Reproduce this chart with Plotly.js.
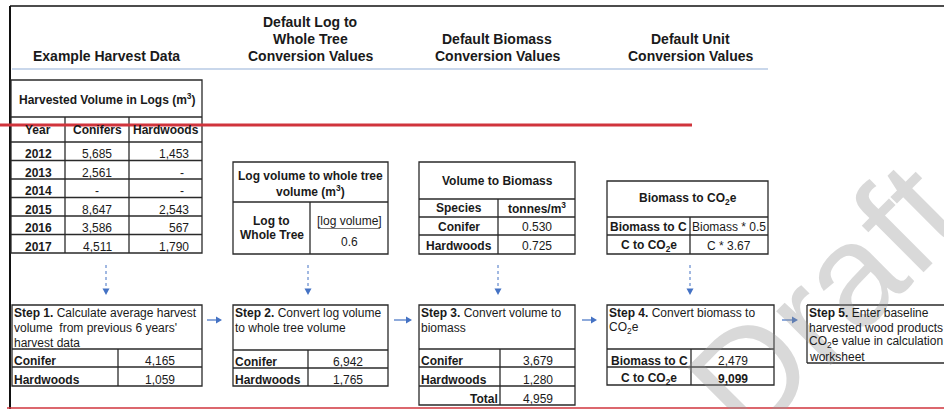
<!DOCTYPE html>
<html><head><meta charset="utf-8">
<script src="https://cdn.plot.ly/plotly-3.0.1.min.js"></script>
<style>html,body{margin:0;padding:0;background:#fff;}#chart{width:944px;height:409px;}</style>
</head><body><div id="chart"></div>
<script>
// ---------------- data ----------------
const headingExample = ['Example Harvest Data'];
const headingLogTree = ['Default Log to', 'Whole Tree', 'Conversion Values'];
const headingBiomass = ['Default Biomass', 'Conversion Values'];
const headingUnit = ['Default Unit', 'Conversion Values'];

const harvestTitle = 'Harvested Volume in Logs (m<sup>3</sup>)';
const harvestColumns = ['Year', 'Conifers', 'Hardwoods'];
const years = ['2012', '2013', '2014', '2015', '2016', '2017'];
const coniferLogs = [5685, 2561, null, 8647, 3586, 4511];
const hardwoodLogs = [1453, null, null, 2543, 567, 1790];

const logTreeTitle = ['Log volume to whole tree', 'volume (m<sup>3</sup>)'];
const logTreeLabel = ['Log to', 'Whole Tree'];
const logTreeFormula = ['[log volume]', '0.6'];

const biomassTitle = 'Volume to Biomass';
const biomassColumns = ['Species', 'tonnes/m<sup>3</sup>'];
const biomassSpecies = ['Conifer', 'Hardwoods'];
const biomassFactors = ['0.530', '0.725'];

const unitTitle = 'Biomass to CO<sub>2</sub>e';
const unitLabels = ['Biomass to C', 'C to CO<sub>2</sub>e'];
const unitFormulas = ['Biomass * 0.5', 'C * 3.67'];

const stepSpecies = ['Conifer', 'Hardwoods'];
const step1Values = [4165, 1059];
const step2Values = [6942, 1765];
const step3Values = [3679, 1280];
const step3Total = 4959;
const step4Labels = ['Biomass to C', 'C to CO<sub>2</sub>e'];
const step4Values = [2479, 9099];

const step1Text = ['<b>Step 1.</b> Calculate average harvest', "volume  from previous 6 years'", 'harvest data'];
const step2Text = ['<b>Step 2.</b> Convert log volume', 'to whole tree volume'];
const step3Text = ['<b>Step 3.</b> Convert volume to', 'biomass'];
const step4Text = ['<b>Step 4.</b> Convert biomass to', 'CO<sub>2</sub>e'];
const step5Text = ['<b>Step 5.</b> Enter baseline', 'harvested wood products', 'CO<sub>2</sub>e value in calculation', 'worksheet'];
const watermark = 'Draft';

// ---------------- helpers ----------------
const FONT = 'Arial, "Liberation Sans", sans-serif';
const fmt = v => v == null ? '-' : v.toLocaleString('en-US');
const shapes = [];
const annotations = [];
const INK = '#1a1a1a';
const BLUE = '#4472c4';
function L(x0, y0, x1, y1, o = {}) {
  shapes.push({type: 'line', xref: 'x', yref: 'y', x0, y0, x1, y1, layer: 'above',
    line: {color: o.c || '#2a2a2a', width: o.w || 1.3, dash: o.d || 'solid'}});
}
function R(x0, y0, x1, y1, o = {}) {
  shapes.push({type: 'rect', xref: 'x', yref: 'y', x0, y0, x1, y1, layer: 'above',
    fillcolor: 'rgba(0,0,0,0)', line: {color: o.c || '#2a2a2a', width: o.w || 1.3}});
}
function P(path, color) {
  shapes.push({type: 'path', xref: 'x', yref: 'y', path, layer: 'above', fillcolor: color, line: {width: 0}});
}
function T(x, y, text, o = {}) {
  annotations.push({xref: 'x', yref: 'y', x, y, text, showarrow: false,
    xanchor: o.a || 'center', yanchor: 'middle', align: o.a || 'center', borderpad: 0,
    font: {family: FONT, size: o.s || 12, color: o.c || INK}});
}
const B = s => '<b>' + s + '</b>';

// watermark (first annotation, so it lies under all other text)
annotations.push({xref: 'x', yref: 'y', x: 825, y: 300, text: watermark, showarrow: false,
  textangle: -45, xanchor: 'center', yanchor: 'middle', borderpad: 0,
  font: {family: FONT, size: 145, color: 'rgba(150,150,150,0.36)'}});

// frame
L(10, 6, 944, 6, {c: '#111', w: 1.5});
L(10, 6, 10, 409, {c: '#111', w: 2});
L(12, 69, 768, 69, {c: '#c9d7eb', w: 2});

// headings
const headCols = [[106, headingExample], [310, headingLogTree], [497, headingBiomass], [690, headingUnit]];
headCols.forEach(([cx, lines]) => {
  lines.forEach((t, i) => T(cx, 56 - (lines.length - 1 - i) * 17, B(t), {s: 14}));
});

// ---- table 1: harvested volume ----
const t1x = [11, 65, 129, 202];
const t1Top = 80, t1Head = 117, t1Col = 142, rowH = 18.5;
const t1Bottom = t1Col + years.length * rowH;
R(t1x[0], t1Top, t1x[3], t1Bottom);
L(t1x[0], t1Head, t1x[3], t1Head);
L(t1x[0], t1Col, t1x[3], t1Col);
years.forEach((_, i) => { if (i < years.length - 1) { const yb = t1Col + (i + 1) * rowH; L(t1x[0], yb, t1x[3], yb); } });
L(t1x[1], t1Head, t1x[1], t1Bottom);
L(t1x[2], t1Head, t1x[2], t1Bottom);
T((t1x[0] + t1x[3]) / 2, 99, B(harvestTitle));
harvestColumns.forEach((c, j) => T((t1x[j] + t1x[j + 1]) / 2, 130, B(c)));
years.forEach((yr, i) => {
  const y = t1Col + (i + 1) * rowH - 6.5;
  T(38, y, B(yr));
  T(97, y, fmt(coniferLogs[i]));
  if (hardwoodLogs[i] == null) T(182, y, '-');
  else T(189.5, y, fmt(hardwoodLogs[i]), {a: 'right'});
});

// ---- table 2: log to whole tree ----
R(233, 162, 388, 254);
L(233, 202, 388, 202);
L(310, 202, 310, 254);
T(310.5, 176, B(logTreeTitle[0]));
T(310.5, 191, B(logTreeTitle[1]));
T(271.5, 221, B(logTreeLabel[0]));
T(271.5, 235, B(logTreeLabel[1]));
T(349, 220.5, logTreeFormula[0]);
L(318, 228.5, 380, 228.5, {c: '#555', w: 0.8});
T(349, 242, logTreeFormula[1]);

// ---- table 3: volume to biomass ----
R(419, 162, 575, 254);
[199, 217, 235].forEach(y => L(419, y, 575, y));
L(498, 199, 498, 254);
T(497, 181, B(biomassTitle));
T(458.5, 208, B(biomassColumns[0]));
T(536.5, 208, B(biomassColumns[1]));
biomassSpecies.forEach((s, i) => {
  const y = [227, 246][i];
  T(458.5, y, B(s));
  T(536.5, y, biomassFactors[i]);
});

// ---- table 4: biomass to CO2e ----
R(607, 181, 768, 254);
L(607, 217, 768, 217);
L(607, 235, 768, 235);
L(690, 217, 690, 254);
T(687.5, 199, B(unitTitle));
unitLabels.forEach((s, i) => {
  const y = [227, 246][i];
  T(648.5, y, B(s));
  T(729, y, unitFormulas[i]);
});

// ---- red line ----
L(0, 125, 692, 125, {c: '#d0343c', w: 3});

// ---- vertical dotted arrows ----
[106, 308, 498, 690].forEach(x => {
  L(x, 265, x, 289, {c: BLUE, w: 1, d: 'dot'});
  P(`M ${x - 3.5} 288.5 L ${x + 3.5} 288.5 L ${x} 295 Z`, BLUE);
});
// ---- horizontal arrows ----
[[207, 222], [394, 412], [582, 597], [782, 798]].forEach(([a, b]) => {
  L(a, 320, b - 5, 320, {c: BLUE, w: 1.2});
  P(`M ${b - 6} 316.5 L ${b - 6} 323.5 L ${b} 320 Z`, BLUE);
});

// ---- step boxes ----
function stepLines(x, lines, y0 = 313, dy = 15) {
  lines.forEach((t, i) => T(x, y0 + i * dy, t, {a: 'left'}));
}
// step 1
R(12, 305, 202, 386);
L(12, 349, 202, 349); L(12, 367, 202, 367); L(118, 349, 118, 386);
stepLines(12.5, step1Text);
stepSpecies.forEach((s, i) => {
  const y = [361, 379.5][i];
  T(12.5, y, B(s), {a: 'left'});
  T(160, y, fmt(step1Values[i]));
});
// step 2
R(233, 305, 388, 386);
L(233, 350, 388, 350); L(233, 368, 388, 368); L(308, 350, 308, 386);
stepLines(233.5, step2Text);
stepSpecies.forEach((s, i) => {
  const y = [362, 380][i];
  T(233.5, y, B(s), {a: 'left'});
  T(348, y, fmt(step2Values[i]));
});
// step 3
R(419, 305, 575, 405);
L(419, 349, 575, 349); L(419, 367, 575, 367); L(419, 386, 575, 386); L(500, 349, 500, 405);
stepLines(419.5, step3Text);
stepSpecies.forEach((s, i) => {
  const y = [361, 379.5][i];
  T(419.5, y, B(s), {a: 'left'});
  T(538, y, fmt(step3Values[i]));
});
T(499, 398.5, B('Total'), {a: 'right'});
T(538, 398.5, fmt(step3Total));
// step 4
R(607, 305, 774, 385);
L(607, 349, 774, 349); L(607, 367, 774, 367); L(691, 349, 691, 385);
stepLines(607.5, step4Text);
step4Labels.forEach((s, i) => {
  const y = [361, 379][i];
  T(649, y, B(s));
  T(732.5, y, i === 1 ? B(fmt(step4Values[i])) : fmt(step4Values[i]));
});
// step 5
L(807, 305, 944, 305); L(807, 363, 944, 363); L(807, 305, 807, 363);
stepLines(807.5, step5Text, 313, 14.6);

// bottom red line
L(7, 408, 944, 408, {c: '#d0343c', w: 1.6});

const layout = {
  width: 944, height: 409,
  margin: {l: 0, r: 0, t: 0, b: 0, pad: 0},
  paper_bgcolor: '#ffffff', plot_bgcolor: '#ffffff',
  xaxis: {range: [0, 944], visible: false, showgrid: false, zeroline: false, fixedrange: true},
  yaxis: {range: [409, 0], visible: false, showgrid: false, zeroline: false, fixedrange: true},
  showlegend: false,
  shapes, annotations
};
Plotly.newPlot('chart', [{type: 'scatter', x: [], y: [], mode: 'markers', hoverinfo: 'skip'}], layout,
  {staticPlot: true, displayModeBar: false});
</script>
</body></html>
